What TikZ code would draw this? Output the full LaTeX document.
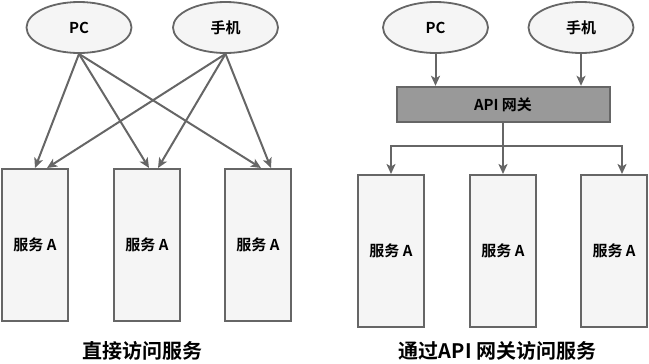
\documentclass[tikz,border=0pt]{standalone}
\usepackage{fontspec}
\setmainfont{Noto Sans CJK SC}[BoldFont={Noto Sans CJK SC Bold}]
\usetikzlibrary{arrows.meta,calc,positioning,shapes.geometric}
\definecolor{edgegray}{HTML}{666666}
\definecolor{boxfill}{HTML}{F5F5F5}
\definecolor{gwfill}{HTML}{999999}
\tikzset{
  client/.style={ellipse,draw=edgegray,fill=boxfill,line width=1.8bp,
    minimum width=105bp,minimum height=51bp,inner sep=0pt,
    font=\fontsize{15bp}{17bp}\selectfont\bfseries},
  svcbox/.style={rectangle,draw=edgegray,fill=boxfill,line width=2bp,
    minimum width=66bp,minimum height=152bp,inner sep=0pt,
    font=\fontsize{15bp}{17bp}\selectfont\bfseries},
  gwbox/.style={rectangle,draw=edgegray,fill=gwfill,line width=2bp,
    minimum width=213bp,minimum height=35bp,inner sep=0pt,
    font=\fontsize{15bp}{17bp}\selectfont\bfseries},
  caption/.style={font=\fontsize{20bp}{23bp}\selectfont\bfseries},
  arr/.style={draw=edgegray,line width=2bp,
    -{Stealth[length=10bp,width=9bp,inset=2.5bp]}}
}
\begin{document}
\begin{tikzpicture}[x=1bp,y=-1bp]
  \useasboundingbox (0,0) rectangle (649,363);

  % direct access
  \node[client] (pcL) at (79,27.5) {PC};
  \node[client] (phoneL) at (225.5,27.5) {手机};
  \node[svcbox] (svcL1) at (35,245) {服务 A};
  \node[svcbox] (svcL2) at (147,245) {服务 A};
  \node[svcbox] (svcL3) at (258,245) {服务 A};
  \node[caption] (titleL) at (142.5,351) {直接访问服务};

  \draw[arr] (pcL.south) -- (svcL1.north);
  \draw[arr] (pcL.south) -- ([xshift=2bp]svcL2.north);
  \draw[arr] (pcL.south) -- ([xshift=3bp]svcL3.north);
  \draw[arr] (phoneL.south) -- ([xshift=12bp]svcL1.north);
  \draw[arr] (phoneL.south) -- ([xshift=11bp]svcL2.north);
  \draw[arr] (phoneL.south) -- ([xshift=13bp]svcL3.north);

  % through the gateway
  \node[client] (pcR) at (435.5,27.5) {PC};
  \node[client] (phoneR) at (581,27.5) {手机};
  \node[gwbox] (gw) at (503,104.3) {API 网关};
  \node[svcbox] (svcR1) at (391,251) {服务 A};
  \node[svcbox] (svcR2) at (503,251) {服务 A};
  \node[svcbox] (svcR3) at (614,251) {服务 A};
  \node[caption] (titleR) at (497.5,351) {通过API 网关访问服务};

  \draw[arr] (pcR.south) -- (pcR.south |- gw.north);
  \draw[arr] (phoneR.south) -- (phoneR.south |- gw.north);
  \coordinate (bus) at ($(gw.south)+(0,23)$);
  \draw[arr] (gw.south) -- (bus) -| (svcR1.north);
  \draw[arr] (bus) -- (svcR2.north);
  \draw[arr] (bus) -| ([xshift=8bp]svcR3.north);
\end{tikzpicture}
\end{document}
